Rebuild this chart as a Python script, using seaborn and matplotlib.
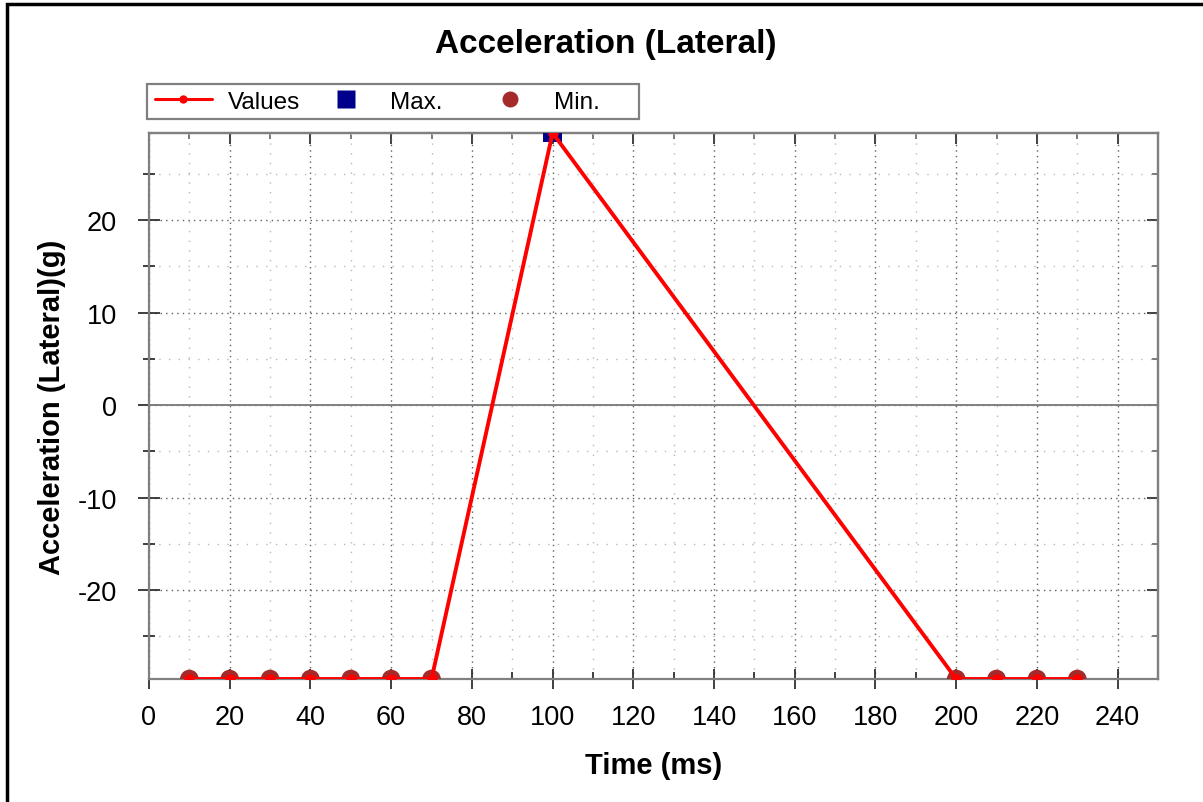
import matplotlib
matplotlib.use("Agg")
import matplotlib.pyplot as plt
import seaborn as sns
import pandas as pd
from matplotlib.ticker import MultipleLocator, NullFormatter
from matplotlib.lines import Line2D
from matplotlib.patches import Rectangle

# ---- data ----
time_ms = [10, 20, 30, 40, 50, 60, 70, 100, 200, 210, 220, 230]
accel_g = [-29.6, -29.6, -29.6, -29.6, -29.6, -29.6, -29.6, 29.4,
           -29.6, -29.6, -29.6, -29.6]
max_time = [100]
max_val = [29.4]
min_time = [10, 20, 30, 40, 50, 60, 70, 200, 210, 220, 230]
min_val = [-29.6] * 11

title = "Acceleration (Lateral)"
xlabel = "Time (ms)"
ylabel = "Acceleration (Lateral)(g)"
legend_labels = ["Values", "Max.", "Min."]

sns.set_style("white")
plt.rcParams['font.family'] = ['Liberation Sans', 'DejaVu Sans']
plt.rcParams['axes.unicode_minus'] = False
plt.rcParams['text.color'] = 'black'
plt.rcParams['axes.labelcolor'] = 'black'
plt.rcParams['xtick.color'] = 'black'
plt.rcParams['ytick.color'] = 'black'

W, H = 1203, 803
fig = plt.figure(figsize=(W / 100, H / 100), dpi=100)
AX_L, AX_R, AX_T, AX_B = 149, 1158, 134, 680
ax = fig.add_axes([AX_L / W, 1 - AX_B / H, (AX_R - AX_L) / W, (AX_B - AX_T) / H])

df = pd.DataFrame({"t": time_ms, "v": accel_g})
dmax = pd.DataFrame({"t": max_time, "v": max_val})
dmin = pd.DataFrame({"t": min_time, "v": min_val})

ax.axhline(0, color="#808080", lw=1.4, zorder=1)
sns.scatterplot(data=dmin, x="t", y="v", ax=ax, color="#A52A2A", marker="o",
                s=180, edgecolor="none", zorder=3, legend=False)
sns.scatterplot(data=dmax, x="t", y="v", ax=ax, color="#00008B", marker="s",
                s=187, edgecolor="none", zorder=3, legend=False)
sns.lineplot(data=df, x="t", y="v", ax=ax, color="red", lw=2.8, marker="o",
             markersize=7.5, markeredgecolor="none", zorder=4, legend=False)

ax.set_xlim(0, 250)
ax.set_ylim(min(min_val), max(max_val))
for axis, maj, mn in ((ax.xaxis, 20, 10), (ax.yaxis, 10, 5)):
    axis.set_major_locator(MultipleLocator(maj))
    axis.set_minor_locator(MultipleLocator(mn))

ax.grid(which="major", color="#606060", ls=(0, (1, 3)), lw=1.0)
ax.grid(which="minor", color="#b8b8b8", ls=(0, (1, 6)), lw=1.0)
ax.set_axisbelow(True)

tc = "#303030"
ax.tick_params(which="both", top=False, right=False, bottom=True, left=True)
ax.tick_params(axis="x", which="major", direction="inout", length=14.4,
               width=1.3, color=tc, labelsize=19.5, pad=11, labelcolor="black")
ax.tick_params(axis="x", which="minor", direction="in", length=5, width=1.3,
               color=tc)
ax.tick_params(axis="y", which="major", direction="inout", length=16,
               width=1.3, color=tc, labelsize=19.5, pad=15, labelcolor="black")
ax.tick_params(axis="y", which="minor", direction="inout", length=8,
               width=1.3, color=tc)

# inward ticks on the top and right edges
secx = ax.secondary_xaxis("top")
secx.xaxis.set_major_locator(MultipleLocator(20))
secx.xaxis.set_minor_locator(MultipleLocator(10))
secx.xaxis.set_major_formatter(NullFormatter())
secx.tick_params(which="both", top=True, bottom=False, labeltop=False)
secx.tick_params(which="major", direction="in", length=8, width=1.3, color=tc)
secx.tick_params(which="minor", direction="in", length=4.5, width=1.3, color="#707070")
secy = ax.secondary_yaxis("right")
secy.yaxis.set_major_locator(MultipleLocator(10))
secy.yaxis.set_minor_locator(MultipleLocator(5))
secy.yaxis.set_major_formatter(NullFormatter())
secy.tick_params(which="both", right=True, left=False, labelright=False)
secy.tick_params(which="major", direction="in", length=8, width=1.3, color=tc)
secy.tick_params(which="minor", direction="in", length=4.5, width=1.3, color="#707070")

for a in (ax, secx, secy):
    for s in a.spines.values():
        s.set_color("#808080")
        s.set_linewidth(1.6)

ax.set_xlabel(xlabel, fontsize=21, fontweight="bold")
ax.set_ylabel(ylabel, fontsize=21, fontweight="bold")
ax.xaxis.set_label_coords(0.5, (AX_B - 752) / (AX_B - AX_T))
ax.yaxis.label.set_va("center")
ax.yaxis.set_label_coords((52 - AX_L) / (AX_R - AX_L), 0.5)

fig.text(606 / W, 1 - 45 / H, title, fontsize=24, fontweight="bold",
         ha="center", va="center", color="black")

# legend: three entries placed in one framed box
handles = [
    Line2D([0], [0], color="red", lw=2.2, marker="o", markersize=6,
           markeredgecolor="none"),
    Line2D([0], [0], color="#00008B", lw=0, marker="s", markersize=13,
           markeredgecolor="none"),
    Line2D([0], [0], color="#A52A2A", lw=0, marker="o", markersize=11.5,
           markeredgecolor="none"),
]
starts = [155, 318, 482]
for h, lab, x0 in zip(handles, legend_labels, starts):
    fig.legend([h], [lab], loc="center left",
               bbox_to_anchor=(x0 / W, 1 - 102.5 / H), fontsize=17.5,
               frameon=False, borderpad=0, borderaxespad=0,
               handlelength=2.33, handletextpad=0.65, labelcolor="black")
fig.patches.append(Rectangle((147 / W, 1 - 120 / H), (639 - 147) / W, 35 / H,
                             transform=fig.transFigure, fill=False,
                             edgecolor="#808080", lw=1.6))

fig.patches.append(Rectangle((7 / W, -0.1), 1.2, 1 - 4.5 / H + 0.1,
                             transform=fig.transFigure, fill=False,
                             edgecolor="black", lw=2.5))

fig.savefig("out.png", dpi=100)
